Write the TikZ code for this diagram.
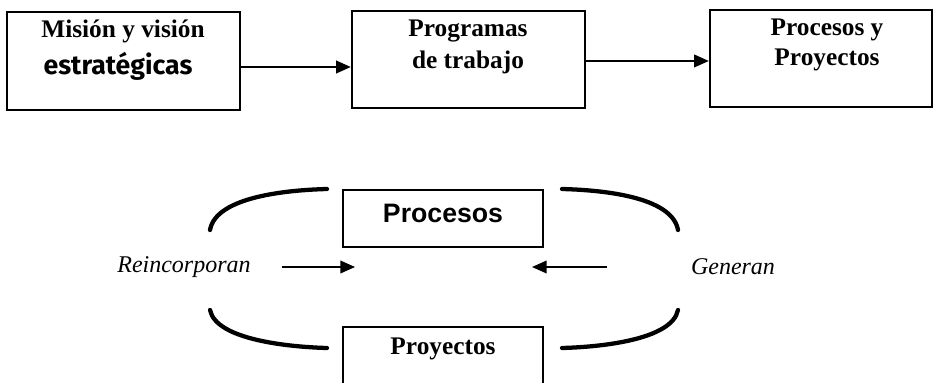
\documentclass[tikz,border=0pt]{standalone}
\usepackage{fontspec}
\setmainfont{Liberation Serif}
\newfontfamily\arialfont{Liberation Sans}
\newfontfamily\comicfont{Fira Sans}
\usetikzlibrary{positioning,arrows.meta}
\tikzset{
  % --- boxes -----------------------------------------------------------------
  bigbox/.style={rectangle,draw,line width=1.8pt,inner sep=0pt},
  smallbox/.style={rectangle,draw,line width=1.1pt,inner sep=0pt},
  boxtxt/.style={font=\fontsize{19}{23}\selectfont\bfseries,inner sep=0pt,
                 align=center},
  sidetxt/.style={font=\fontsize{18}{22}\selectfont\itshape,inner sep=0pt},
  % --- connectors ------------------------------------------------------------
  flow/.style={-{Triangle[length=11pt,width=9.5pt]},line width=1.2pt},
  cycle/.style={line width=3.2pt,line cap=round},
}

\begin{document}
\begin{tikzpicture}[x=0.75pt, y=-0.75pt]
  \useasboundingbox (0,0) rectangle (934,382);

  % top row
  \node[bigbox,minimum width=174.75pt,minimum height=73.5pt]  (mision)    at (123.5,61)   {};
  \node[bigbox,minimum width=174.75pt,minimum height=72.75pt] (programas) at (468.5,59.5) {};
  \node[bigbox,minimum width=166.5pt,minimum height=72.75pt]  (procyproy) at (821,58.5)   {};

  \node[boxtxt] (mision1) at (123,31) {Misión y visión};
  \node[boxtxt,font=\comicfont\fontsize{20}{24}\selectfont\bfseries] (mision2) at (118,66) {estratégicas};
  \node[boxtxt] (programas1) at (468,31) {Programas};
  \node[boxtxt] (programas2) at (468,62) {de trabajo};
  \node[boxtxt] (procyproy1) at (827,30) {Procesos y};
  \node[boxtxt] (procyproy2) at (827,60) {Proyectos};

  \coordinate (m1) at ([yshift=-4.5pt]mision.east);
  \coordinate (p1) at ([yshift=-1.1pt]programas.east);
  \draw[flow] (m1) -- (m1 -| programas.west);
  \draw[flow] (p1) -- (p1 -| procyproy.west);

  % cycle
  \node[smallbox,minimum width=150pt,minimum height=42.75pt] (procesos)  at (443,218.5) {};
  \node[smallbox,minimum width=150pt,minimum height=54.75pt] (proyectos) at (443,363.5) {};
  \node[boxtxt,font=\arialfont\fontsize{20}{24}\selectfont\bfseries] (procesostxt) at (443,213) {Procesos};
  \node[boxtxt,font=\fontsize{19}{23}\selectfont\bfseries] (proyectostxt) at (443,349) {Proyectos};

  \node[sidetxt] (reinc) at (184,267) {Reincorporan};
  \node[sidetxt] (gen)   at (733,267) {Generan};

  \coordinate (rs) at (282,267);
  \coordinate (re) at (355,267);
  \coordinate (gs) at (607,267);
  \coordinate (ge) at (532,267);
  \draw[flow] (rs) -- (re);
  \draw[flow] (gs) -- (ge);

  \draw[cycle] (210,230) .. controls (216,196) and (290,190) .. (327,189);
  \draw[cycle] (562,189) .. controls (600,190) and (672,196) .. (678,230);
  \draw[cycle] (210,310) .. controls (216,340) and (290,347) .. (327,348);
  \draw[cycle] (562,348) .. controls (600,347) and (672,340) .. (678,310);
\end{tikzpicture}
\end{document}
